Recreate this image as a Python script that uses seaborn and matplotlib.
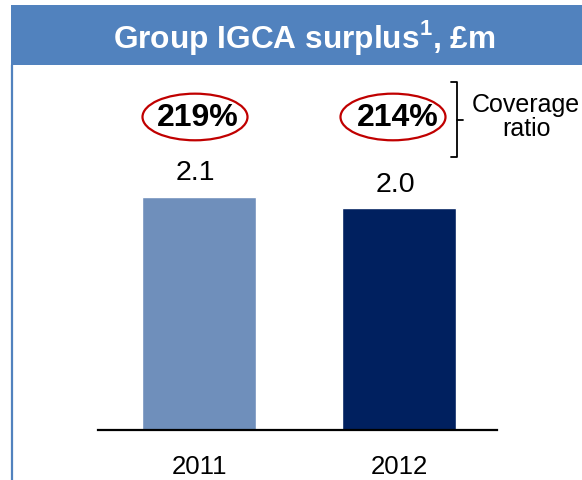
import matplotlib
matplotlib.use("Agg")
import matplotlib.pyplot as plt
import seaborn as sns
import pandas as pd
from matplotlib.patches import Rectangle, Ellipse
from matplotlib.lines import Line2D

years = ["2011", "2012"]
surplus = [2.1, 2.0]
surplus_labels = ["2.1", "2.0"]
coverage = ["219%", "214%"]
bar_colors = ["#6F8FBB", "#00205F"]

W, H = 582, 481


def fx(px):
    return px / W


def fy(py):
    return 1 - py / H


sns.set_theme(style="white")
plt.rcParams['font.family'] = ['Liberation Sans', 'DejaVu Sans']
plt.rcParams['mathtext.fontset'] = 'custom'
plt.rcParams['mathtext.rm'] = 'Liberation Sans'
plt.rcParams['mathtext.bf'] = 'Liberation Sans:bold'

fig = plt.figure(figsize=(W / 100, H / 100), dpi=100)
fig.patch.set_facecolor("white")

# ── header band and left frame line ──
fig.patches.append(Rectangle((fx(11), fy(66)), 1 - fx(11), fy(6) - fy(66),
                             transform=fig.transFigure, facecolor="#5182BE",
                             edgecolor="none", zorder=0))
fig.lines.append(Line2D([fx(12), fx(12)], [fy(66), 0], transform=fig.transFigure,
                        color="#5182BE", lw=1.6))
fig.text(fx(304), fy(48), r"Group IGCA surplus$^{\mathbf{1}}$, £m", color="white",
         fontsize=22.8, fontweight="bold", ha="center", va="baseline")

# ── bars ──
ax = fig.add_axes([fx(98), fy(431), fx(497) - fx(98), fy(80) - fy(431)])
df = pd.DataFrame({"year": years, "surplus": surplus})
sns.barplot(data=df, x="year", y="surplus", hue="year", palette=bar_colors,
            width=0.57, saturation=1, legend=False, ax=ax)
ax.set_xlim(-0.505, 1.49)
ax.set_ylim(0, (431 - 80) / 111)
ax.set_facecolor("none")
for s in ["top", "right", "left"]:
    ax.spines[s].set_visible(False)
ax.spines["bottom"].set_color("black")
ax.spines["bottom"].set_linewidth(1.6)
ax.set_yticks([])
ax.set_xlabel("")
ax.set_ylabel("")
ax.tick_params(axis="x", length=0, pad=17, labelsize=18.5, labelcolor="black")

# value labels and coverage ratios
for i, (v, lab, cov) in enumerate(zip(surplus, surplus_labels, coverage)):
    ax.text(i - 0.02, v + 0.22, lab, ha="center", va="center", fontsize=20.5,
            color="black")
    ax.text(i - 0.005, 2.82, cov, ha="center", va="center", fontsize=23,
            fontweight="bold", color="black")
    ax.add_patch(Ellipse((i - 0.02 - 0.01 * i, 2.82), 0.525, 0.42, facecolor="none",
                         edgecolor="#C00000", lw=1.6, clip_on=False))

# bracket and "Coverage ratio"
bx = 457
fig.lines.append(Line2D([fx(bx - 6), fx(bx), fx(bx), fx(bx - 6)],
                        [fy(83), fy(83), fy(158), fy(158)],
                        transform=fig.transFigure, color="black", lw=1.3))
fig.lines.append(Line2D([fx(bx), fx(bx + 6)], [fy(121), fy(121)],
                        transform=fig.transFigure, color="black", lw=1.3))
fig.text(fx(526), fy(117), "Coverage\nratio", ha="center", va="center",
         multialignment="center", fontsize=18, color="black", linespacing=1.0)

fig.savefig("out.png", dpi=100)
